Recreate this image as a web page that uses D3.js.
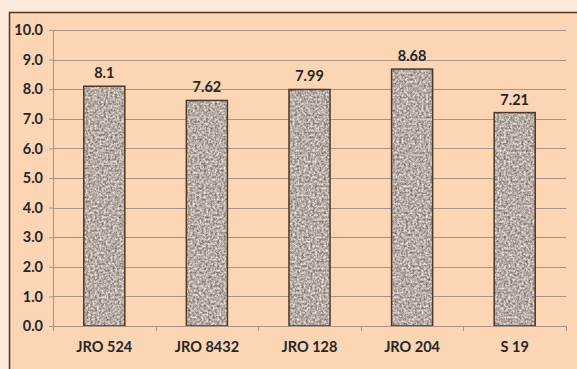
<!DOCTYPE html>
<html>
<head>
<meta charset="utf-8">
<script src="https://cdn.jsdelivr.net/npm/d3@7"></script>
<style>
  body { margin: 0; background: #fdeadb; }
  svg { display: block; }
  text { font-family: Lato, "Open Sans", sans-serif; font-weight: bold; fill: #262626; }
</style>
</head>
<body>
<script>
// Values
let categories = ['JRO 524', 'JRO 8432', 'JRO 128', 'JRO 204', 'S 19'];
let values = [8.1, 7.62, 7.99, 8.68, 7.21];
let valueLabels = ['8.1', '7.62', '7.99', '8.68', '7.21'];
let yTicks = [0, 1, 2, 3, 4, 5, 6, 7, 8, 9, 10];

let W = 577, H = 369;
let margin = {top: 30, right: 11, bottom: 43, left: 53};

let svg = d3.select('body').append('svg')
    .attr('width', W)
    .attr('height', H);

// granite-like fill for the bars
let defs = svg.append('defs');
let filt = defs.append('filter').attr('id', 'granite')
    .attr('color-interpolation-filters', 'sRGB')
    .attr('x', 0).attr('y', 0).attr('width', 1).attr('height', 1);
filt.append('feTurbulence')
    .attr('type', 'fractalNoise')
    .attr('baseFrequency', 0.45)
    .attr('numOctaves', 3)
    .attr('seed', 7)
    .attr('result', 'noise');
filt.append('feColorMatrix')
    .attr('in', 'noise')
    .attr('type', 'matrix')
    .attr('values', '0 0 0 0.75 0.34  0 0 0 0.75 0.30  0 0 0 0.75 0.27  0 0 0 0 1')
    .attr('result', 'col');
filt.append('feComposite').attr('in', 'col').attr('in2', 'SourceGraphic').attr('operator', 'in');

// outer chart box
svg.append('rect')
    .attr('x', 9.5).attr('y', 12.5)
    .attr('width', W).attr('height', H)
    .attr('fill', '#fcd5b5')
    .attr('stroke', '#4d3526')
    .attr('stroke-width', 1.5);

let width = W - margin.left - margin.right,
    height = H - margin.top - margin.bottom;

let g = svg.append('g')
    .attr('transform', 'translate(' + margin.left + ',' + margin.top + ')');

let x = d3.scaleBand()
    .domain(categories)
    .range([0, width])
    .paddingInner(0.6)
    .paddingOuter(0.3);

let y = d3.scaleLinear()
    .domain([0, 10])
    .range([296, 0]);

// gridlines
g.selectAll('.grid')
    .data(yTicks.slice(1))
    .enter().append('line')
    .attr('x1', 0).attr('x2', width)
    .attr('y1', d => Math.round(y(d)) + 0.5)
    .attr('y2', d => Math.round(y(d)) + 0.5)
    .attr('stroke', '#a89484')
    .attr('stroke-width', 1);

// y axis
let yAxis = g.append('g')
    .call(d3.axisLeft(y).tickValues(yTicks).tickFormat(d3.format('.1f')).tickSize(4).tickPadding(6));
yAxis.select('.domain').attr('stroke', '#a89484');
yAxis.selectAll('.tick line').attr('stroke', '#a89484');
yAxis.selectAll('text').style('font-size', '14.5px').attr('fill', '#262626');

// bars
let bars = g.selectAll('.bar')
    .data(values)
    .enter();

bars.append('rect')
    .attr('x', (d, i) => x(categories[i]))
    .attr('y', d => y(d))
    .attr('width', x.bandwidth())
    .attr('height', d => y(0) - y(d))
    .attr('fill', '#a3968d');

bars.append('rect')
    .attr('x', (d, i) => x(categories[i]))
    .attr('y', d => y(d))
    .attr('width', x.bandwidth())
    .attr('height', d => y(0) - y(d))
    .attr('fill', '#fff')
    .attr('filter', 'url(#granite)');

bars.append('rect')
    .attr('x', (d, i) => x(categories[i]))
    .attr('y', d => y(d))
    .attr('width', x.bandwidth())
    .attr('height', d => y(0) - y(d))
    .attr('fill', 'none')
    .attr('stroke', '#4f3829')
    .attr('stroke-width', 1.5);

// value labels
g.selectAll('.val')
    .data(values)
    .enter().append('text')
    .attr('x', (d, i) => x(categories[i]) + x.bandwidth() / 2)
    .attr('y', d => y(d) - 8)
    .attr('text-anchor', 'middle')
    .style('font-size', '14.5px')
    .text((d, i) => valueLabels[i]);

// x axis
let xAxis = g.append('g')
    .attr('transform', 'translate(0,' + y(0) + ')');
xAxis.append('line')
    .attr('x1', 0).attr('x2', width)
    .attr('y1', 0.5).attr('y2', 0.5)
    .attr('stroke', '#a89484');
xAxis.selectAll('.xtick')
    .data(d3.range(categories.length + 1))
    .enter().append('line')
    .attr('x1', i => Math.round(i * width / categories.length) + 0.5)
    .attr('x2', i => Math.round(i * width / categories.length) + 0.5)
    .attr('y1', 0).attr('y2', 5)
    .attr('stroke', '#a89484');
xAxis.selectAll('.xlab')
    .data(categories)
    .enter().append('text')
    .attr('x', d => x(d) + x.bandwidth() / 2)
    .attr('y', 26)
    .attr('text-anchor', 'middle')
    .style('font-size', '14.5px')
    .text(d => d);
</script>
</body>
</html>
